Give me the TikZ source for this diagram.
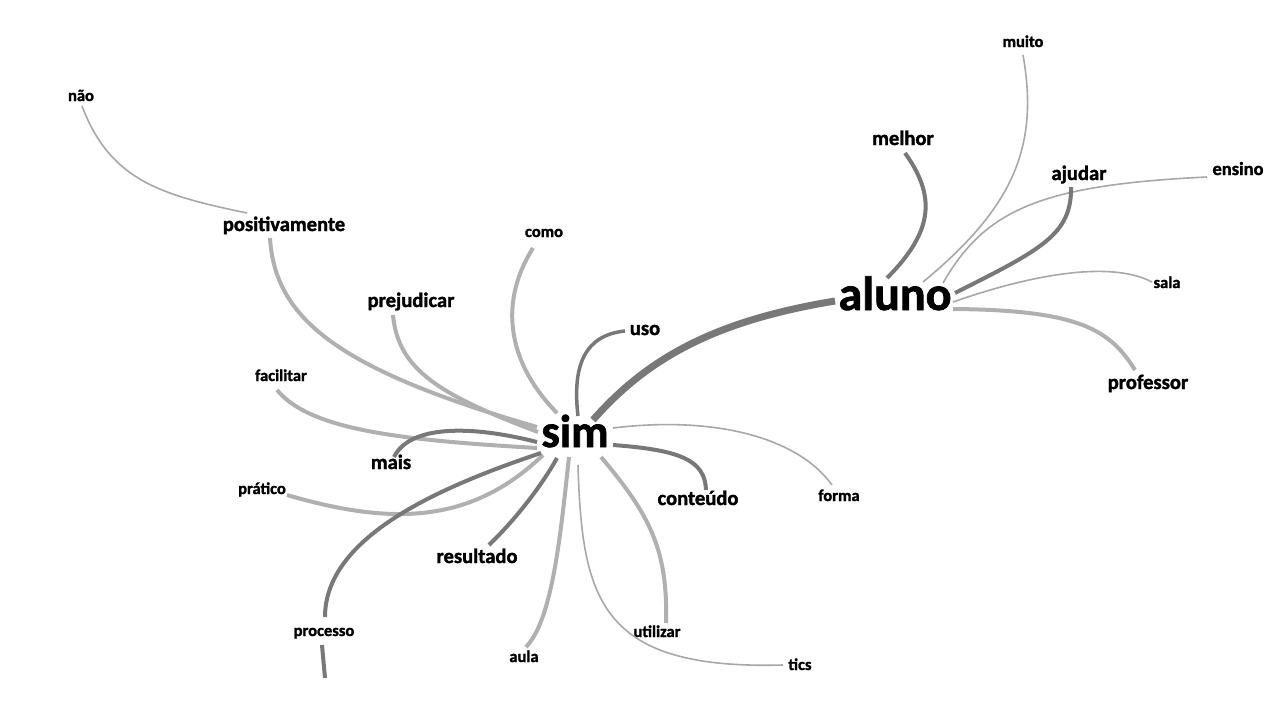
\documentclass[tikz,border=0pt]{standalone}
\usepackage{fontspec}
\setmainfont{Carlito}[BoldFeatures={FakeBold=1.5}]
\definecolor{darkg}{HTML}{787878}
\definecolor{lightg}{HTML}{B0B0B0}
\definecolor{thing}{HTML}{A8A8A8}
\tikzset{
  big/.style={font=\bfseries\fontsize{46}{50}\selectfont, inner sep=0pt, anchor=base},
  bigger/.style={font=\bfseries\fontsize{48}{52}\selectfont, inner sep=0pt, anchor=base},
  mid/.style={font=\bfseries\fontsize{20.6}{24}\selectfont, inner sep=0pt, anchor=base},
  ens/.style={font=\bfseries\fontsize{18.5}{22}\selectfont, inner sep=0pt, anchor=base},
  sml/.style={font=\bfseries\fontsize{16.5}{19}\selectfont, inner sep=0pt, anchor=base},
  dk/.style={draw=darkg, line width=4pt},
  lt/.style={draw=lightg, line width=4pt},
  th/.style={draw=thing, line width=1.6pt},
  main/.style={draw=darkg, line width=7pt},
}
\begin{document}
\begin{tikzpicture}[x=1pt,y=-1pt]
\useasboundingbox[fill=white] (0,0) rectangle (1280,720);
% nodes
\node[big] (sim) at (575,447) {sim};
\node[bigger] (aluno) at (895,310) {aluno};
\node[mid] (melhor) at (903,145) {melhor};
\node[sml] (muito) at (1023,47) {muito};
\node[mid] (ajudar) at (1079,180) {ajudar};
\node[ens] (ensino) at (1238,175) {ensino};
\node[sml] (sala) at (1167,288) {sala};
\node[mid] (professor) at (1148,389) {professor};
\node[sml] (nao) at (81,101) {não};
\node[mid] (posit) at (284,231) {positivamente};
\node[sml] (como) at (544,237) {como};
\node[mid] (prej) at (411,307) {prejudicar};
\node[mid] (uso) at (645,335) {uso};
\node[sml] (facil) at (281,381) {facilitar};
\node[mid] (mais) at (391,469) {mais};
\node[sml] (pratico) at (262,494) {prático};
\node[mid] (result) at (477,563) {resultado};
\node[mid] (conteudo) at (698,505) {conteúdo};
\node[sml] (forma) at (839,501) {forma};
\node[sml] (processo) at (324,636) {processo};
\node[sml] (aula) at (524,662) {aula};
\node[sml] (utilizar) at (657,637) {utilizar};
\node[sml] (tics) at (800,670) {tics};
\coordinate (offbottom) at (325,678);
% aluno cluster
\draw[main] ([shift={(18,-27)}]sim.base) .. controls (650,355) and (720,320) .. ([shift={(-60,-9)}]aluno.base);
\draw[dk] ([shift={(-8,-32)}]aluno.base) .. controls (935,230) and (935,195) .. ([shift={(2,8)}]melhor.base);
\draw[th] ([shift={(28,-28)}]aluno.base) .. controls (1010,210) and (1040,150) .. ([shift={(0,8)}]muito.base);
\draw[th] ([shift={(48,-27)}]aluno.base) .. controls (985,210) and (1040,185) .. ([shift={(-31,2)}]ensino.base);
\draw[dk] ([shift={(60,-17)}]aluno.base) .. controls (1040,250) and (1072,235) .. ([shift={(-8,7)}]ajudar.base);
\draw[th] ([shift={(58,-8)}]aluno.base) .. controls (1030,275) and (1110,260) .. ([shift={(-15,-6)}]sala.base);
\draw[lt] ([shift={(58,-1)}]aluno.base) .. controls (1080,310) and (1110,330) .. ([shift={(-13,-19)}]professor.base);
% left cluster
\draw[th] ([shift={(1,5)}]nao.base) .. controls (110,180) and (160,195) .. ([shift={(-37,-18)}]posit.base);
\draw[lt] ([shift={(-14,7)}]posit.base) .. controls (275,320) and (340,370) .. ([shift={(-38,-20)}]sim.base);
\draw[lt] ([shift={(-18,8)}]prej.base) .. controls (398,370) and (440,395) .. ([shift={(-37,-15)}]sim.base);
\draw[lt] ([shift={(-11,11)}]como.base) .. controls (500,300) and (505,360) .. ([shift={(-18,-34)}]sim.base);
\draw[draw=darkg, line width=3.5pt] ([shift={(-20,-4)}]uso.base) .. controls (585,335) and (572,365) .. ([shift={(3,-31)}]sim.base);
\draw[lt] ([shift={(-4,9)}]facil.base) .. controls (310,430) and (400,440) .. ([shift={(-38,1)}]sim.base);
\draw[dk] ([shift={(3,-12)}]mais.base) .. controls (410,425) and (470,425) .. ([shift={(-38,-5)}]sim.base);
\draw[lt] ([shift={(25,1)}]pratico.base) .. controls (390,525) and (470,525) .. ([shift={(-32,8)}]sim.base);
\draw[dk] ([shift={(1,-19)}]processo.base) .. controls (325,540) and (430,490) .. ([shift={(-34,6)}]sim.base);
\draw[dk] ([shift={(-2,9)}]processo.base) -- (offbottom);
\draw[dk] ([shift={(12,-18)}]result.base) .. controls (520,515) and (545,480) .. ([shift={(-18,11)}]sim.base);
\draw[lt] ([shift={(2,-15)}]aula.base) .. controls (552,620) and (560,540) .. ([shift={(-6,10)}]sim.base);
\draw[th] ([shift={(3,18)}]sim.base) .. controls (582,600) and (600,670) .. ([shift={(-17,-5)}]tics.base);
\draw[lt] ([shift={(26,10)}]sim.base) .. controls (650,515) and (668,550) .. ([shift={(9,-14)}]utilizar.base);
\draw[dk] ([shift={(38,-2)}]sim.base) .. controls (680,450) and (705,460) .. ([shift={(8,-15)}]conteudo.base);
\draw[th] ([shift={(38,-19)}]sim.base) .. controls (720,415) and (800,440) .. ([shift={(-7,-16)}]forma.base);
\end{tikzpicture}
\end{document}
